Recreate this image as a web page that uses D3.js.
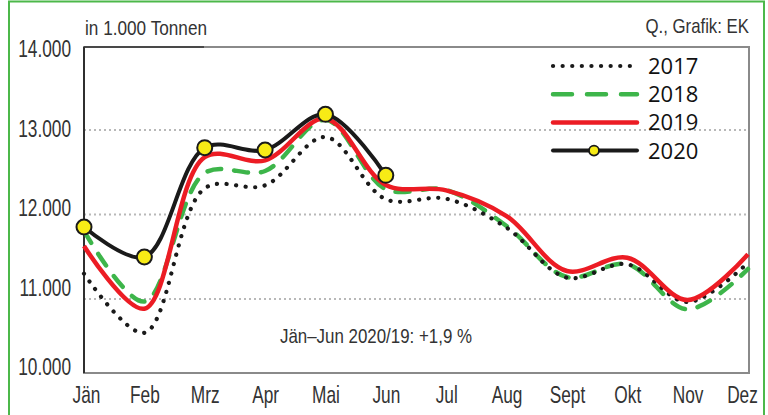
<!DOCTYPE html>
<html>
<head>
<meta charset="utf-8">
<script src="https://cdn.jsdelivr.net/npm/d3@7"></script>
<style>
  body { margin: 0; background: #fff; }
  svg text { font-family: 'Liberation Sans', Arial, sans-serif; fill: #333; }
  .legend-text { font-family: 'Open Sans', sans-serif !important; fill: #111 !important; }
</style>
</head>
<body>
<svg id="chart"></svg>
<script>
// months and values (1.000 t)
const months = ['Jän', 'Feb', 'Mrz', 'Apr', 'Mai', 'Jun', 'Jul', 'Aug', 'Sept', 'Okt', 'Nov', 'Dez'];
const yTicks = [10000, 11000, 12000, 13000, 14000];
const years = ['2017', '2018', '2019', '2020'];

const v2017 = [11300, 10600, 12310, 12345, 12917, 12180, 12187, 11844, 11252, 11411, 10964, 11430];
const v2018 = [11805, 10970, 12491, 12515, 13120, 12300, 12290, 11864, 11260, 11411, 10878, 11355];
const v2019 = [11627, 10885, 12680, 12641, 13134, 12350, 12286, 11982, 11331, 11489, 10988, 11529];
const v2020 = [11852, 11497, 12791, 12763, 13186, 12464];

const W = 768, H = 415;
const plot = { left: 84, right: 749, top: 47, bottom: 373 };

const svg = d3.select('#chart').attr('width', W).attr('height', H);

// condensed look: squeeze text horizontally
function narrow(sel, s) {
  sel.each(function() {
    const t = d3.select(this);
    const x = +t.attr('x') || 0;
    t.attr('x', x / s).attr('transform', `scale(${s},1)`);
  });
}

// outer green frame
svg.append('rect')
    .attr('x', 9).attr('y', 1.5)
    .attr('width', 755).attr('height', 430)
    .attr('fill', 'none')
    .attr('stroke', '#4cb84a')
    .attr('stroke-width', 2);

const xScale = d3.scalePoint()
    .domain(months)
    .range([84, 748]);

// gridlines / data
const yScale = d3.scaleLinear()
    .domain([10000, 14000])
    .range([383.5, 45.5]);

// tick labels sit slightly off the grid in the original
const yLabelScale = d3.scaleLinear()
    .domain([10000, 14000])
    .range([367, 49]);

// gridlines
svg.append('g')
    .selectAll('line')
    .data(yTicks.filter(d => d > 10000 && d < 14000))
    .join('line')
    .attr('x1', plot.left)
    .attr('x2', plot.right)
    .attr('y1', d => yScale(d))
    .attr('y2', d => yScale(d))
    .attr('stroke', '#b8b8b8')
    .attr('stroke-width', 2)
    .attr('stroke-dasharray', '2 3');

// frame
svg.append('rect')
    .attr('x', plot.left).attr('y', plot.top)
    .attr('width', plot.right - plot.left)
    .attr('height', plot.bottom - plot.top)
    .attr('fill', 'none')
    .attr('stroke', '#8a8a8a')
    .attr('stroke-width', 2);

svg.append('line')
    .attr('x1', plot.left).attr('x2', plot.left)
    .attr('y1', plot.top).attr('y2', plot.bottom)
    .attr('stroke', '#111')
    .attr('stroke-width', 1.5);
svg.append('line')
    .attr('x1', plot.left).attr('x2', plot.left + 120)
    .attr('y1', plot.top).attr('y2', plot.top)
    .attr('stroke', '#333')
    .attr('stroke-width', 1.5);

// y axis labels
const yAxis = d3.axisLeft(yLabelScale)
    .tickValues(yTicks)
    .tickSize(0)
    .tickPadding(13)
    .tickFormat(d => d3.format(',')(d).replace(',', '.'));

const yAxisG = svg.append('g')
    .attr('transform', `translate(${plot.left},0)`)
    .call(yAxis);
yAxisG.select('.domain').remove();
yAxisG.selectAll('text')
    .style('font-size', '24px')
    .call(narrow, 0.72);

// x axis labels
const xAxis = d3.axisBottom(xScale)
    .tickSize(0)
    .tickPadding(13);

const xAxisG = svg.append('g')
    .attr('transform', `translate(0,${plot.bottom})`)
    .call(xAxis);
xAxisG.select('.domain').remove();
xAxisG.selectAll('text')
    .style('font-size', '24px')
    .attr('x', (d, i) => i === 0 ? 2 : (i === months.length - 1 ? -6 : 0))
    .call(narrow, 0.72);

// lines
const line = d3.line()
    .x((d, i) => xScale(months[i]))
    .y(d => yScale(d))
    .curve(d3.curveCatmullRom.alpha(0.5));

const chart = svg.append('g');

chart.append('path')
    .datum(v2018)
    .attr('d', line)
    .attr('fill', 'none')
    .attr('stroke', '#3db54a')
    .attr('stroke-width', 4.5)
    .attr('stroke-linecap', 'round')
    .attr('stroke-dasharray', '14 13');

chart.append('path')
    .datum(v2017)
    .attr('d', line)
    .attr('fill', 'none')
    .attr('stroke', '#1a1a1a')
    .attr('stroke-width', 4.2)
    .attr('stroke-linecap', 'round')
    .attr('stroke-dasharray', '0.1 9.5');

chart.append('path')
    .datum(v2019)
    .attr('d', line)
    .attr('fill', 'none')
    .attr('stroke', '#ec1c24')
    .attr('stroke-width', 4.5);

chart.append('path')
    .datum(v2020)
    .attr('d', line)
    .attr('fill', 'none')
    .attr('stroke', '#1a1a1a')
    .attr('stroke-width', 4);

chart.selectAll('circle.p2020')
    .data(v2020)
    .join('circle')
    .attr('class', 'p2020')
    .attr('cx', (d, i) => xScale(months[i]))
    .attr('cy', d => yScale(d))
    .attr('r', 7.5)
    .attr('fill', '#f7eb16')
    .attr('stroke', '#1a1a1a')
    .attr('stroke-width', 2);

// legend
const legendStyles = [
  { stroke: '#1a1a1a', width: 4.2, dash: '0.1 9.5', cap: 'round' },
  { stroke: '#3db54a', width: 4.5, dash: '19 15', cap: 'round' },
  { stroke: '#ec1c24', width: 4.5, dash: null, cap: 'round' },
  { stroke: '#1a1a1a', width: 4, dash: null, cap: 'round' }
];

const legend = svg.append('g');
years.forEach((yr, i) => {
  const y = 66 + i * 28.2;
  const s = legendStyles[i];
  legend.append('line')
      .attr('x1', 553).attr('x2', 637)
      .attr('y1', y).attr('y2', y)
      .attr('stroke', s.stroke)
      .attr('stroke-width', s.width)
      .attr('stroke-linecap', s.cap)
      .attr('stroke-dasharray', s.dash);
  if (yr === '2020') {
    legend.append('circle')
        .attr('cx', 594).attr('cy', y)
        .attr('r', 5)
        .attr('fill', '#f7eb16')
        .attr('stroke', '#1a1a1a')
        .attr('stroke-width', 1.8);
  }
  legend.append('text')
      .attr('class', 'legend-text')
      .attr('x', 648)
      .attr('y', y + 8)
      .style('font-size', '22px')
      .text(yr);
});

// annotations
svg.append('text')
    .attr('x', 85).attr('y', 35)
    .style('font-size', '20px')
    .text('in 1.000 Tonnen')
    .call(narrow, 0.86);

svg.append('text')
    .attr('x', 749).attr('y', 33)
    .attr('text-anchor', 'end')
    .style('font-size', '20px')
    .text('Q., Grafik: EK')
    .call(narrow, 0.84);

svg.append('text')
    .attr('x', 376).attr('y', 343)
    .attr('text-anchor', 'middle')
    .style('font-size', '20px')
    .text('Jän–Jun 2020/19: +1,9 %')
    .call(narrow, 0.845);
</script>
</body>
</html>
